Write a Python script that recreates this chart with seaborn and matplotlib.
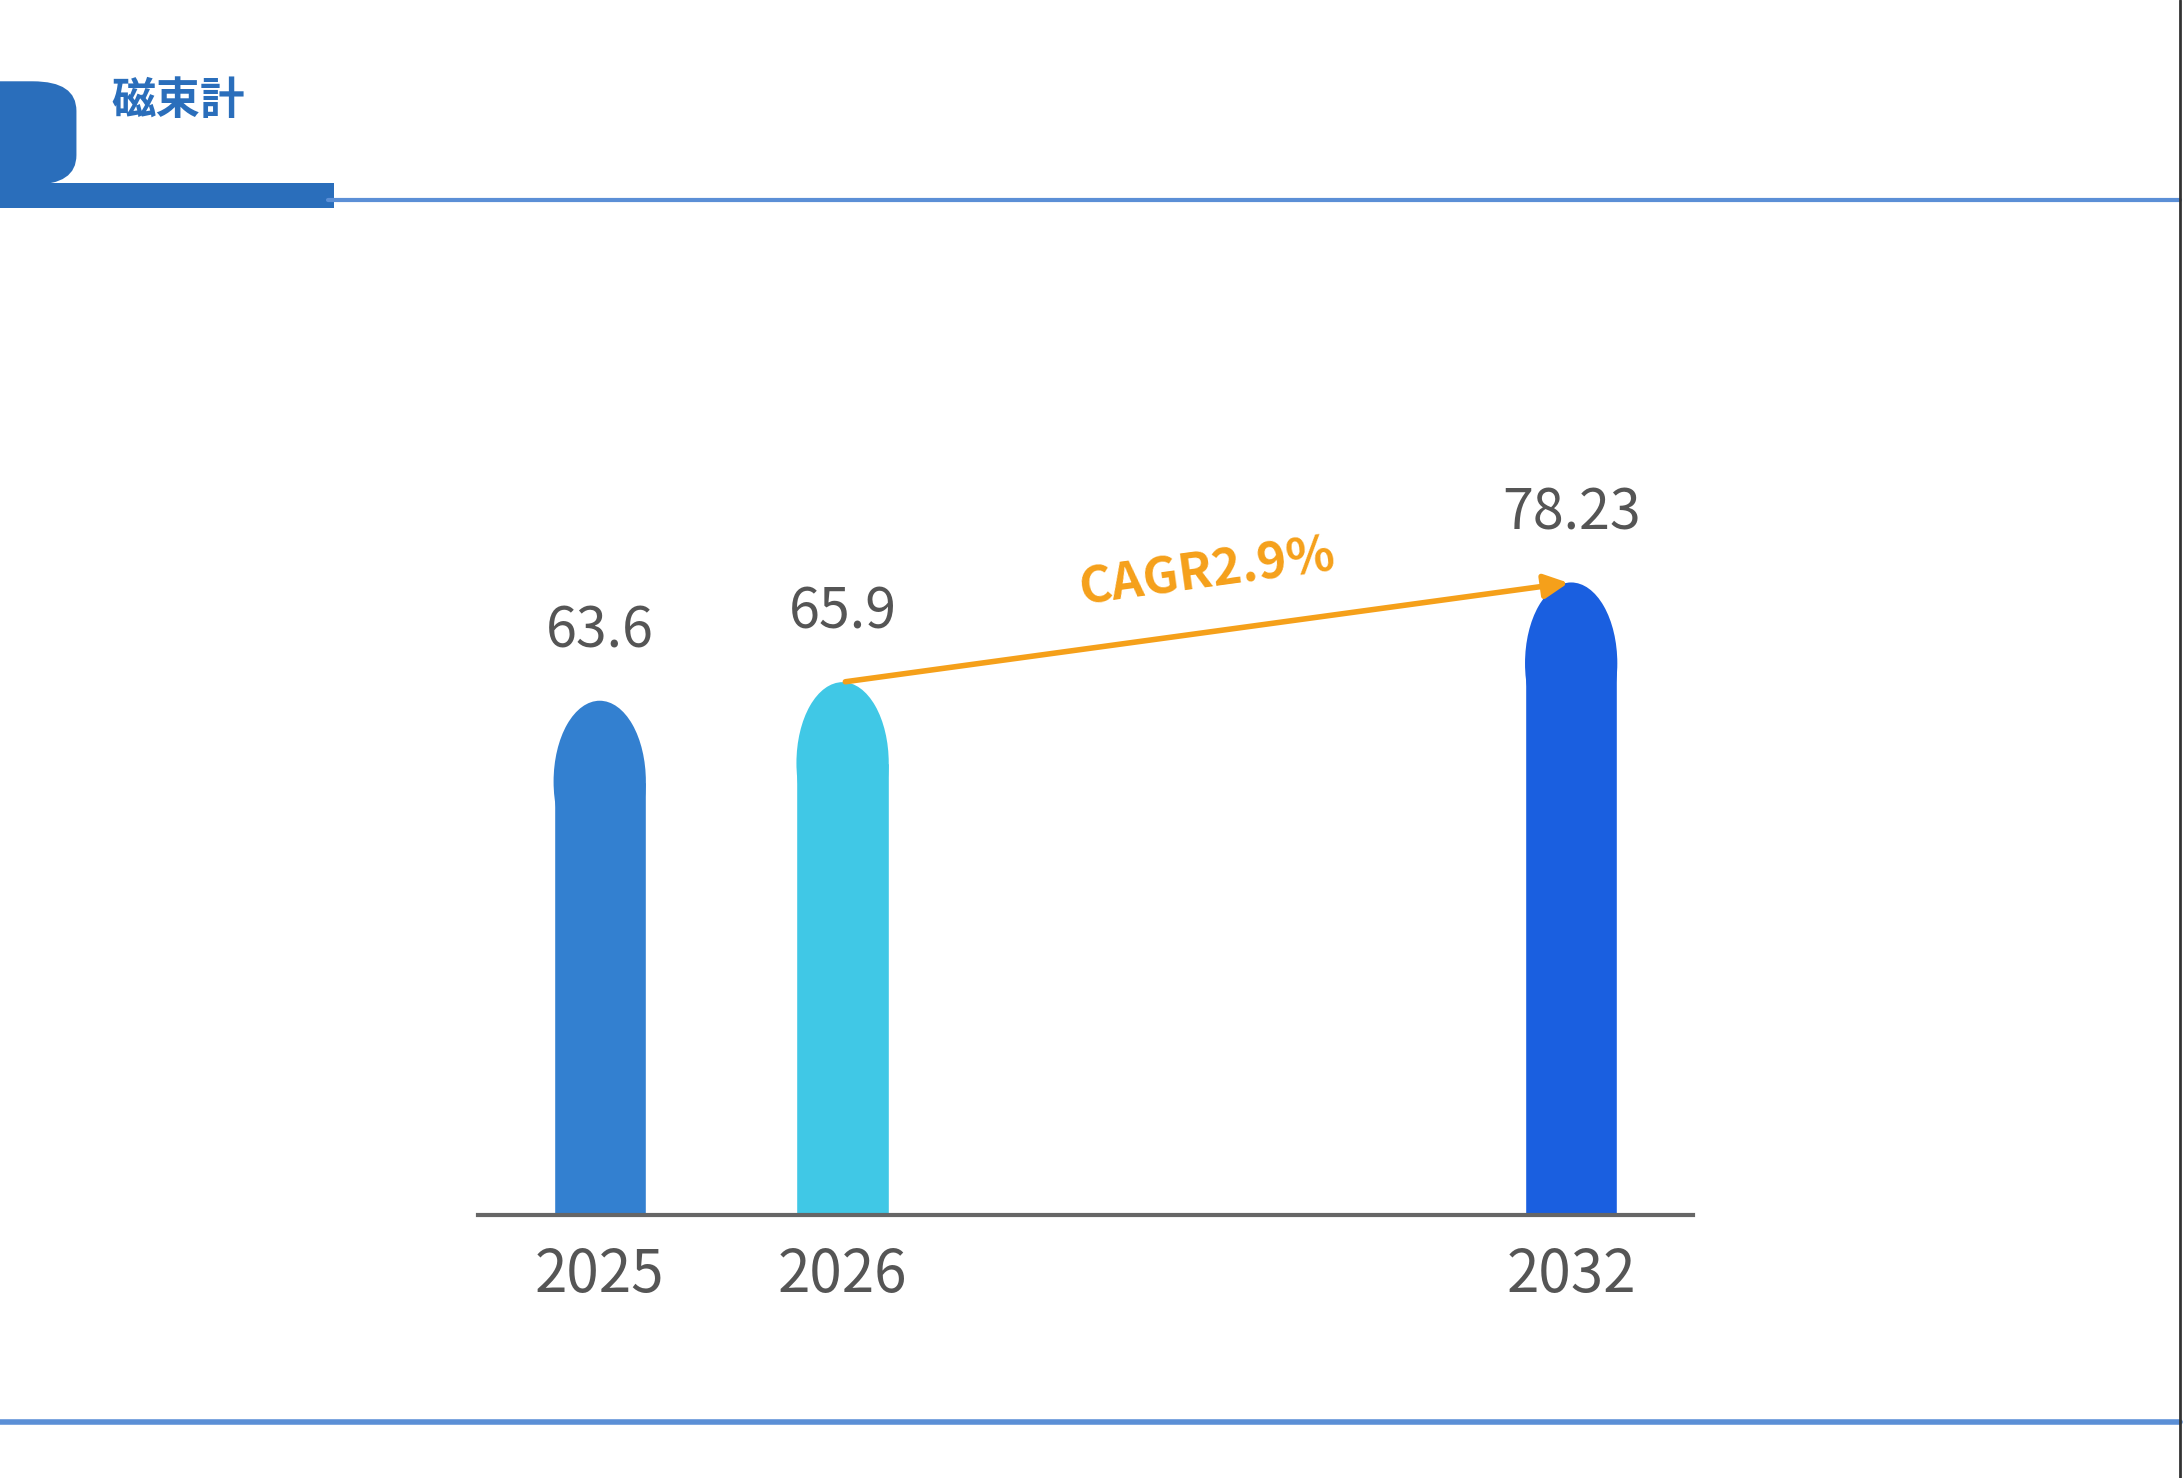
import matplotlib
matplotlib.use("Agg")
import matplotlib.pyplot as plt
import seaborn as sns
import pandas as pd
from matplotlib.patches import Ellipse, FancyBboxPatch, Rectangle
from matplotlib.lines import Line2D

years = ["2025", "2026", "2032"]
xpos = [0, 1, 4]
values = [63.6, 65.9, 78.23]
colors = ["#3380d0", "#40c8e6", "#1a5fe0"]
title = "磁束計"
cagr_text = "CAGR2.9%"

sns.set_theme(style="white")
plt.rcParams["font.family"] = ["Liberation Sans Narrow", "Noto Sans CJK JP", "DejaVu Sans"]

fig = plt.figure(figsize=(21.84, 14.78), dpi=100)
ax = fig.add_axes([0.219, 0.178, 0.556, 0.547])

df = pd.DataFrame({"x": xpos, "v": values, "year": years})
sns.barplot(data=df, x="x", y="v", hue="year", palette=colors, native_scale=True,
            width=0.38, legend=False, ax=ax, saturation=1)
ax.set_xlim(-0.5, 4.5)
ax.set_ylim(0, 100)

# rounded tops
cap = 10
for p in ax.patches[:]:
    if not isinstance(p, Rectangle):
        continue
    h = p.get_height()
    if h <= 0:
        continue
    x0, w = p.get_x(), p.get_width()
    p.set_height(h - cap)
    ax.add_patch(Ellipse((x0 + w / 2, h - cap), w, 2 * cap, color=p.get_facecolor(), lw=0))

for x, v in zip(xpos, values):
    ax.text(x, v + 5, f"{v:g}", ha="center", va="bottom", fontsize=40, color="#555555")

ax.set_xticks(xpos)
ax.set_xticklabels(years, fontsize=42, color="#555555")
ax.tick_params(axis="x", length=0, pad=22)
ax.set_yticks([])
ax.set_xlabel("")
ax.set_ylabel("")
for s in ["top", "right", "left"]:
    ax.spines[s].set_visible(False)
ax.spines["bottom"].set_color("#666666")
ax.spines["bottom"].set_linewidth(3)

# CAGR arrow
ax.annotate("", xy=(4, values[2]), xytext=(1, values[1]),
            arrowprops=dict(arrowstyle="-|>,head_length=1.2,head_width=0.6", color="#f5a01a", lw=4))
ax.text(2.5, 79.5, cagr_text, ha="center", va="center", rotation=7.8, fontsize=36,
        color="#f5a01a", fontweight="bold")

# header decoration
blue = "#2a6ebb"
fig.patches.append(FancyBboxPatch((-0.02, 0.875), 0.055, 0.07, boxstyle="round,pad=0,rounding_size=0.02",
                                  transform=fig.transFigure, color=blue, lw=0))
fig.patches.append(Rectangle((0, 0.859), 0.153, 0.0175, transform=fig.transFigure, color=blue, lw=0))
fig.lines.append(Line2D([0.15, 0.998], [0.865, 0.865], transform=fig.transFigure, color="#5b8fd6", lw=3))
fig.lines.append(Line2D([0, 0.998], [0.038, 0.038], transform=fig.transFigure, color="#5b8fd6", lw=4))
fig.lines.append(Line2D([0.998, 0.998], [0, 1], transform=fig.transFigure, color="#333333", lw=2))
fig.text(0.051, 0.932, title, fontsize=32, color=blue, fontweight="bold", va="center",
         family=["Noto Sans CJK JP", "DejaVu Sans"])

fig.savefig("out.png", dpi=100)
